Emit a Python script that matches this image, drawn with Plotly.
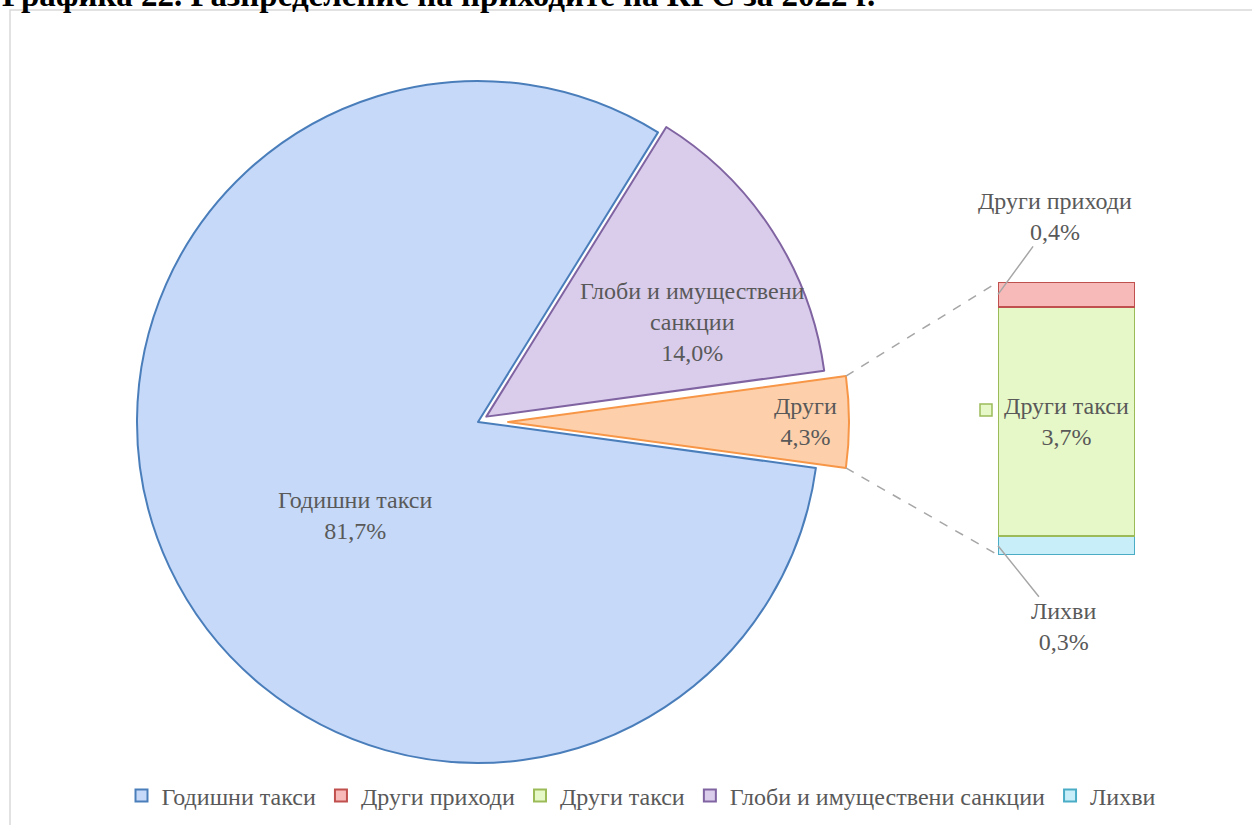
import math
import plotly.graph_objects as go

# data
pie_labels = ["Други", "Глоби и имуществени санкции", "Годишни такси"]
pie_values = [4.3, 14.0, 81.7]
pie_text = ["Други", "Глоби и имуществени<br>санкции", "Годишни такси"]
pie_pull = [0.088, 0.029, 0.0]

bar_labels = ["Лихви", "Други такси", "Други приходи"]
bar_values = [0.3, 3.7, 0.4]

legend_order = ["Годишни такси", "Други приходи", "Други такси",
                "Глоби и имуществени санкции", "Лихви"]

title_text = "Графика 22. Разпределение на приходите на КРС за 2022 г."

# look
W, H = 1252, 825
FONT = "Times New Roman, Liberation Serif, serif"
TXT = "#595959"
FS = 24
fills = {
    "Годишни такси": "#c6d9f9",
    "Глоби и имуществени санкции": "#dacdec",
    "Други": "#fdd0ab",
    "Други приходи": "#f8b9b9",
    "Други такси": "#e6f8c8",
    "Лихви": "#c8eefa",
}
lines = {
    "Годишни такси": "#4a7ebb",
    "Глоби и имуществени санкции": "#8064a2",
    "Други": "#f79646",
    "Други приходи": "#c0504d",
    "Други такси": "#9bbb59",
    "Лихви": "#4bacc6",
}

# geometry in pixels (top-left origin)
PIE_CX, PIE_CY, PIE_R = 478, 422, 341
BAR_X0, BAR_X1, BAR_TOP, BAR_BOT = 998, 1135, 282, 555


def px(x):
    return x / W


def py(y):
    return 1 - y / H


def fmt(v):
    return f"{v:.1f}".replace(".", ",") + "%"


half = PIE_R * (1 + max(pie_pull))
half_deg = pie_values[0] / sum(pie_values) * 360 / 2
# counterclockwise pies start the first slice at `rotation` going clockwise,
# so this centres "Други" on 3 o'clock
rotation = 90 - half_deg

fig = go.Figure()

fig.add_trace(go.Pie(
    labels=pie_labels,
    values=pie_values,
    pull=pie_pull,
    sort=False,
    direction="counterclockwise",
    rotation=rotation,
    marker=dict(colors=[fills[l] for l in pie_labels],
                line=dict(color=[lines[l] for l in pie_labels], width=2)),
    textinfo="none",
    hoverinfo="label+percent",
    showlegend=False,
    domain=dict(x=[px(PIE_CX - half), px(PIE_CX + half)],
                y=[py(PIE_CY + half), py(PIE_CY - half)]),
))

# stacked bar on the right
for lab, val in zip(bar_labels, bar_values):
    fig.add_trace(go.Bar(
        x=[0.5], y=[val], width=[1], name=lab,
        marker=dict(color=fills[lab], line=dict(color=lines[lab], width=2)),
        text=[lab + "<br>" + fmt(val)] if lab == "Други такси" else None,
        textposition="inside", insidetextanchor="middle",
        textfont=dict(family=FONT, size=FS, color=TXT),
        xaxis="x2", yaxis="y2",
        legendrank=legend_order.index(lab) + 1,
    ))

# legend-only entries for the pie slices
for lab in ["Годишни такси", "Глоби и имуществени санкции"]:
    fig.add_trace(go.Bar(
        x=[None], y=[None], name=lab,
        marker=dict(color=fills[lab], line=dict(color=lines[lab], width=2)),
        xaxis="x2", yaxis="y2",
        legendrank=legend_order.index(lab) + 1,
    ))

annotations = []
# pie slice labels
slice_pos = {"Годишни такси": (355, 515),
             "Глоби и имуществени санкции": (692, 322),
             "Други": (805, 422)}
for lab, t, v in zip(pie_labels, pie_text, pie_values):
    x, y = slice_pos[lab]
    annotations.append(dict(x=px(x), y=py(y), xref="paper", yref="paper",
                            xanchor="center", yanchor="middle",
                            text=t + "<br>" + fmt(v), showarrow=False,
                            font=dict(family=FONT, size=FS, color=TXT)))

# callouts for the thin bar segments
annotations.append(dict(x=0, y=bar_values[0] + bar_values[1] + bar_values[2] / 2,
                        xref="x2", yref="y2",
                        text="Други приходи<br>" + fmt(bar_values[2]),
                        showarrow=True, arrowhead=0, arrowwidth=1.5,
                        arrowcolor="#a6a6a6", ax=57, ay=-78,
                        font=dict(family=FONT, size=FS, color=TXT)))
annotations.append(dict(x=0, y=bar_values[0] / 2, xref="x2", yref="y2",
                        text="Лихви<br>" + fmt(bar_values[0]),
                        showarrow=True, arrowhead=0, arrowwidth=1.5,
                        arrowcolor="#a6a6a6", ax=65, ay=81,
                        font=dict(family=FONT, size=FS, color=TXT)))

# title, cut by the top edge as in the source
annotations.append(dict(x=0, y=1, xref="paper", yref="paper",
                        xanchor="left", yanchor="bottom", yshift=-15,
                        text="<b>" + title_text + "</b>", showarrow=False,
                        font=dict(family=FONT, size=33, color="black")))

# dashed connectors between the pulled slice and the bar
half_ang = math.radians(half_deg)
apex_x = PIE_CX + pie_pull[0] * PIE_R
shapes = []
for sgn, by in [(1, BAR_TOP), (-1, BAR_BOT)]:
    cx = apex_x + PIE_R * math.cos(half_ang)
    cy = PIE_CY - sgn * PIE_R * math.sin(half_ang)
    shapes.append(dict(type="line", xref="paper", yref="paper",
                       x0=px(cx), y0=py(cy), x1=px(BAR_X0), y1=py(by),
                       line=dict(color="#a6a6a6", width=1.5, dash="dash")))

# chart area border and legend key next to the bar label
shapes.append(dict(type="rect", xref="paper", yref="paper",
                   x0=px(10), y0=py(10), x1=px(W + 10), y1=py(H + 10),
                   line=dict(color="#d9d9d9", width=1.5)))
shapes.append(dict(type="rect", xref="paper", yref="paper",
                   x0=px(980), y0=py(404), x1=px(992), y1=py(416),
                   fillcolor=fills["Други такси"],
                   line=dict(color=lines["Други такси"], width=1.5)))

fig.update_layout(
    width=W, height=H,
    margin=dict(l=0, r=0, t=0, b=0),
    paper_bgcolor="white", plot_bgcolor="rgba(0,0,0,0)",
    barmode="stack",
    xaxis2=dict(domain=[px(BAR_X0), px(BAR_X1)], range=[0, 1],
                visible=False, fixedrange=True, anchor="y2"),
    yaxis2=dict(domain=[py(BAR_BOT), py(BAR_TOP)], range=[0, sum(bar_values)],
                visible=False, fixedrange=True, anchor="x2"),
    xaxis=dict(visible=False), yaxis=dict(visible=False),
    legend=dict(orientation="h", x=px(641), xanchor="center",
                y=py(796), yanchor="middle", itemwidth=30,
                font=dict(family=FONT, size=FS, color=TXT),
                traceorder="normal"),
    uniformtext=dict(minsize=FS, mode="show"),
    annotations=annotations,
    shapes=shapes,
)

fig.write_html("out.html", config={"displayModeBar": False},
               post_script="document.body.style.margin='0px';")
